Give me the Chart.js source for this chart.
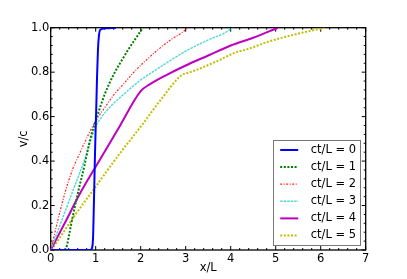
<!DOCTYPE html>
<html><head><meta charset="utf-8">
<script src="https://cdn.jsdelivr.net/npm/chart.js@4/dist/chart.umd.min.js"></script>
<style>html,body{margin:0;padding:0;background:#fff;overflow:hidden}canvas{display:block}</style>
</head><body>
<canvas id="c" width="407" height="279" style="width:407px;height:279px"></canvas>
<script>
// ---- data ----
const seriesLabels = ['ct/L = 0', 'ct/L = 1', 'ct/L = 2', 'ct/L = 3', 'ct/L = 4', 'ct/L = 5'];
const xTicks = [0, 1, 2, 3, 4, 5, 6, 7];
const xTickLabels = ['0', '1', '2', '3', '4', '5', '6', '7'];
const yTicks = [0, 0.2, 0.4, 0.6, 0.8, 1.0];
const yTickLabels = ['0.0', '0.2', '0.4', '0.6', '0.8', '1.0'];
const xTitle = 'x/L';
const yTitle = 'v/c';

const x0 = [0, 0.88, 0.92, 0.94, 0.95, 0.97, 0.99, 1.01, 1.03, 1.05, 1.07, 1.10, 1.20, 1.45];
const y0 = [0, 0, 0.01, 0.05, 0.12, 0.30, 0.48, 0.62, 0.78, 0.90, 0.96, 0.99, 0.997, 1.0];

const x1 = [0.31, 0.36, 0.42, 0.50, 0.62, 0.75, 0.88, 1.03, 1.20, 1.40, 1.60, 1.75, 1.90, 2.05];
const y1 = [0, 0.02, 0.08, 0.16, 0.27, 0.38, 0.50, 0.60, 0.70, 0.79, 0.86, 0.91, 0.955, 1.0];

const x2 = [0, 0.05, 0.13, 0.30, 0.50, 0.60, 0.70, 0.84, 1.00, 1.20, 1.41, 1.61, 1.85, 2.10, 2.38, 2.70, 2.90, 3.05];
const y2 = [0, 0.04, 0.11, 0.245, 0.37, 0.415, 0.46, 0.52, 0.58, 0.64, 0.70, 0.745, 0.80, 0.85, 0.90, 0.95, 0.975, 1.0];

const x3 = [0, 0.25, 0.50, 0.75, 1.00, 1.10, 1.35, 1.62, 2.00, 2.26, 2.60, 3.05, 3.50, 3.85, 4.05];
const y3 = [0, 0.135, 0.27, 0.405, 0.555, 0.59, 0.65, 0.70, 0.765, 0.80, 0.845, 0.90, 0.945, 0.975, 1.0];

const x4 = [0, 0.31, 0.68, 1.00, 1.50, 2.00, 2.20, 2.60, 3.00, 3.50, 4.00, 4.50, 5.05];
const y4 = [0, 0.12, 0.265, 0.375, 0.545, 0.715, 0.745, 0.79, 0.83, 0.875, 0.92, 0.955, 1.0];

const x5 = [0.02, 0.50, 1.00, 1.50, 2.00, 2.50, 2.90, 3.10, 3.30, 3.70, 4.10, 4.40, 4.80, 5.20, 5.60, 6.10];
const y5 = [0, 0.145, 0.285, 0.425, 0.555, 0.69, 0.785, 0.80, 0.815, 0.85, 0.888, 0.905, 0.935, 0.958, 0.978, 1.0];

// ---- styling ----
const FONT = '"DejaVu Sans", sans-serif';
const FS = 11.5;
const styles = [
  {c: '#0000ff', w: 2, d: []},
  {c: '#008000', w: 2, d: [2, 1.6]},
  {c: '#ff2020', w: 1.2, d: [2, 1.5, 1, 1.5]},
  {c: '#4fd6d6', w: 1.4, d: [2.5, 1]},
  {c: '#bf00bf', w: 2, d: []},
  {c: '#bfbf00', w: 2, d: [2, 1.6]}
];
const xs = [x0, x1, x2, x3, x4, x5];
const ysv = [y0, y1, y2, y3, y4, y5];

const datasets = seriesLabels.map((lab, i) => ({
  label: lab,
  data: xs[i].map((xv, k) => ({x: xv, y: ysv[i][k]})),
  borderColor: styles[i].c,
  borderWidth: styles[i].w,
  borderDash: styles[i].d,
  pointRadius: 0,
  fill: false,
  cubicInterpolationMode: 'monotone',
  borderCapStyle: 'butt'
}));

const framePlugin = {
  id: 'frame',
  beforeDatasetsDraw(chart) {
    const {ctx, chartArea: a, scales: {x, y}} = chart;
    ctx.save();
    ctx.strokeStyle = '#000';
    ctx.lineWidth = 1;
    const tick = (px, py, dx, dy) => { ctx.beginPath(); ctx.moveTo(px, py); ctx.lineTo(px + dx, py + dy); ctx.stroke(); };
    for (let i = 0; i < xTicks.length; i++) {
      const p = x.getPixelForValue(xTicks[i]);
      tick(p, a.bottom, 0, -4); tick(p, a.top, 0, 4);
      if (i < xTicks.length - 1) {
        for (let m = 1; m < 5; m++) {
          const q = x.getPixelForValue(xTicks[i] + (xTicks[i + 1] - xTicks[i]) * m / 5);
          tick(q, a.bottom, 0, -2); tick(q, a.top, 0, 2);
        }
      }
    }
    for (let i = 0; i < yTicks.length; i++) {
      const p = y.getPixelForValue(yTicks[i]);
      tick(a.left, p, 4, 0); tick(a.right, p, -4, 0);
      if (i < yTicks.length - 1) {
        for (let m = 1; m < 5; m++) {
          const q = y.getPixelForValue(yTicks[i] + (yTicks[i + 1] - yTicks[i]) * m / 5);
          tick(a.left, q, 2, 0); tick(a.right, q, -2, 0);
        }
      }
    }
    ctx.lineWidth = 1.3;
    ctx.strokeRect(a.left, a.top, a.right - a.left, a.bottom - a.top);
    // axis titles
    ctx.fillStyle = '#000';
    ctx.font = FS + 'px ' + FONT;
    ctx.textAlign = 'center';
    ctx.textBaseline = 'middle';
    ctx.fillText(xTitle, (a.left + a.right) / 2, a.bottom + 18);
    ctx.translate(a.left - 27, (a.top + a.bottom) / 2);
    ctx.rotate(-Math.PI / 2);
    ctx.fillText(yTitle, 0, 0);
    ctx.restore();
  },
  afterDraw(chart) {
    const {ctx, chartArea: a} = chart;
    const bw = 86.5, bh = 104.5;
    const bx = a.right - 6 - bw, by = a.bottom - 5.5 - bh;
    ctx.save();
    ctx.fillStyle = '#fff';
    ctx.fillRect(bx, by, bw, bh);
    ctx.strokeStyle = '#777';
    ctx.lineWidth = 1;
    ctx.strokeRect(Math.round(bx) + 0.5, Math.round(by) + 0.5, Math.round(bw), Math.round(bh));
    ctx.font = FS + 'px ' + FONT;
    ctx.textAlign = 'left';
    ctx.textBaseline = 'middle';
    chart.data.datasets.forEach((ds, i) => {
      const ry = by + 10 + i * 17.1;
      ctx.strokeStyle = ds.borderColor;
      ctx.lineWidth = ds.borderWidth;
      ctx.setLineDash(ds.borderDash);
      ctx.beginPath(); ctx.moveTo(bx + 7, ry); ctx.lineTo(bx + 25, ry); ctx.stroke();
      ctx.setLineDash([]);
      ctx.fillStyle = '#000';
      ctx.fillText(ds.label, bx + 37.5, ry);
    });
    ctx.restore();
  }
};

new Chart(document.getElementById('c'), {
  type: 'line',
  data: {datasets},
  options: {
    responsive: false,
    animation: false,
    devicePixelRatio: 1,
    layout: {padding: {left: 0, right: 41.3, top: 27.7, bottom: 0}},
    plugins: {legend: {display: false}, tooltip: {enabled: false}},
    scales: {
      x: {
        type: 'linear', min: 0, max: 7,
        grid: {display: false, drawTicks: false},
        border: {display: false},
        afterBuildTicks: s => { s.ticks = xTicks.map(v => ({value: v})); },
        afterFit: s => { s.height = 29; },
        ticks: {
          autoSkip: false, maxRotation: 0, padding: 2, color: '#000',
          font: {family: FONT, size: FS},
          callback: (v) => { const k = xTicks.indexOf(v); return k >= 0 ? xTickLabels[k] : ''; }
        }
      },
      y: {
        type: 'linear', min: 0, max: 1,
        grid: {display: false, drawTicks: false},
        border: {display: false},
        afterBuildTicks: s => { s.ticks = yTicks.map(v => ({value: v})); },
        afterFit: s => { s.width = 50.7; },
        ticks: {
          autoSkip: false, padding: 1.5, color: '#000',
          font: {family: FONT, size: FS},
          callback: (v) => { const k = yTicks.findIndex(t => Math.abs(t - v) < 1e-9); return k >= 0 ? yTickLabels[k] : ''; }
        }
      }
    }
  },
  plugins: [framePlugin]
});
</script>
</body></html>
